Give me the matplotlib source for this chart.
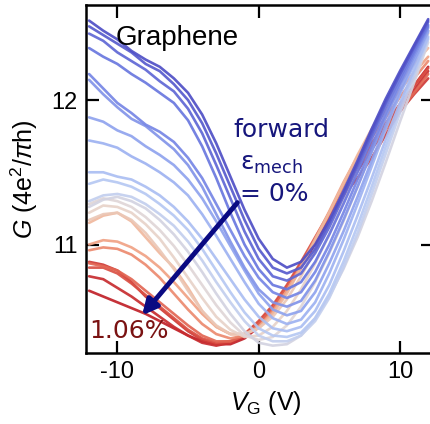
"""
Graphene transfer curves G(VG) for increasing mechanical strain (forward sweep).
"""
import matplotlib.pyplot as plt
from matplotlib.colors import LinearSegmentedColormap

plt.rcParams['font.family'] = ['Liberation Sans', 'DejaVu Sans']
plt.rcParams['mathtext.fontset'] = 'custom'
plt.rcParams['mathtext.rm'] = 'Liberation Sans'
plt.rcParams['mathtext.it'] = 'Liberation Sans:italic'
plt.rcParams['axes.unicode_minus'] = False

# Gate voltage grid (V)
vg = [-12, -11, -10, -9, -8, -7, -6, -5, -4, -3, -2, -1, 0,
      1, 2, 3, 4, 5, 6, 7, 8, 9, 10, 11, 12]

# Mechanical strain of each sweep (%)
strain = [0.00, 0.04, 0.08, 0.13, 0.17, 0.21, 0.25, 0.30, 0.34, 0.38, 0.42, 0.47,
          0.51, 0.55, 0.59, 0.64, 0.70, 0.76, 0.85, 0.91, 0.98, 1.02, 1.06]

# Conductance G (4e^2/pi h), one row per sweep
G = [
    [12.55, 12.48, 12.42, 12.34, 12.28, 12.23, 12.15, 12.05, 11.90, 11.70, 11.47, 11.24, 11.04,
     10.90, 10.84, 10.88, 11.00, 11.17, 11.37, 11.58, 11.80, 12.01, 12.20, 12.38, 12.56],
    [12.51, 12.45, 12.39, 12.33, 12.25, 12.20, 12.11, 12.00, 11.84, 11.63, 11.40, 11.17, 10.97,
     10.84, 10.80, 10.84, 10.97, 11.15, 11.35, 11.56, 11.78, 11.99, 12.18, 12.37, 12.55],
    [12.46, 12.41, 12.33, 12.27, 12.21, 12.13, 12.06, 11.94, 11.77, 11.55, 11.32, 11.09, 10.90,
     10.78, 10.75, 10.80, 10.94, 11.12, 11.33, 11.54, 11.76, 11.98, 12.18, 12.36, 12.54],
    [12.36, 12.30, 12.25, 12.18, 12.12, 12.05, 11.98, 11.86, 11.68, 11.46, 11.22, 11.00, 10.83,
     10.72, 10.69, 10.74, 10.88, 11.07, 11.28, 11.50, 11.73, 11.95, 12.15, 12.34, 12.52],
    [12.18, 12.08, 11.98, 11.91, 11.83, 11.78, 11.71, 11.60, 11.46, 11.28, 11.10, 10.92, 10.77,
     10.67, 10.63, 10.67, 10.81, 11.00, 11.22, 11.45, 11.68, 11.91, 12.12, 12.32, 12.51],
    [12.14, 12.04, 11.95, 11.87, 11.82, 11.74, 11.66, 11.55, 11.40, 11.21, 11.02, 10.84, 10.69,
     10.60, 10.57, 10.61, 10.75, 10.95, 11.17, 11.40, 11.64, 11.88, 12.10, 12.30, 12.50],
    [11.88, 11.85, 11.79, 11.75, 11.68, 11.62, 11.55, 11.45, 11.32, 11.16, 10.99, 10.82, 10.66,
     10.55, 10.51, 10.54, 10.67, 10.87, 11.09, 11.33, 11.58, 11.83, 12.06, 12.27, 12.48],
    [11.72, 11.70, 11.67, 11.61, 11.56, 11.50, 11.43, 11.34, 11.21, 11.06, 10.90, 10.74, 10.59,
     10.49, 10.45, 10.48, 10.60, 10.80, 11.03, 11.28, 11.54, 11.80, 12.04, 12.25, 12.47],
    [11.50, 11.50, 11.47, 11.45, 11.40, 11.34, 11.26, 11.16, 11.04, 10.90, 10.76, 10.62, 10.50,
     10.42, 10.40, 10.43, 10.54, 10.72, 10.95, 11.20, 11.46, 11.73, 11.98, 12.21, 12.44],
    [11.42, 11.45, 11.43, 11.40, 11.35, 11.28, 11.20, 11.10, 10.97, 10.82, 10.67, 10.53, 10.42,
     10.37, 10.36, 10.39, 10.49, 10.66, 10.88, 11.13, 11.40, 11.68, 11.95, 12.19, 12.43],
    [11.30, 11.34, 11.35, 11.33, 11.28, 11.21, 11.13, 11.02, 10.89, 10.74, 10.60, 10.47, 10.37,
     10.33, 10.33, 10.37, 10.47, 10.63, 10.84, 11.08, 11.35, 11.63, 11.91, 12.16, 12.42],
    [11.26, 11.31, 11.33, 11.30, 11.25, 11.17, 11.07, 10.95, 10.81, 10.66, 10.52, 10.40, 10.32,
     10.30, 10.31, 10.37, 10.49, 10.64, 10.83, 11.05, 11.30, 11.57, 11.85, 12.12, 12.40],
    [11.28, 11.32, 11.30, 11.26, 11.19, 11.10, 10.99, 10.86, 10.72, 10.58, 10.46, 10.37, 10.34,
     10.36, 10.44, 10.57, 10.74, 10.94, 11.16, 11.40, 11.65, 11.90, 12.13, 12.33, 12.48],
    [11.22, 11.27, 11.26, 11.22, 11.14, 11.04, 10.91, 10.77, 10.63, 10.50, 10.41, 10.36, 10.37,
     10.43, 10.54, 10.69, 10.87, 11.07, 11.29, 11.52, 11.75, 11.97, 12.17, 12.34, 12.48],
    [11.17, 11.21, 11.22, 11.17, 11.08, 10.96, 10.83, 10.68, 10.54, 10.44, 10.38, 10.38, 10.42,
     10.50, 10.62, 10.78, 10.96, 11.16, 11.37, 11.58, 11.79, 11.99, 12.17, 12.33, 12.46],
    [11.15, 11.20, 11.22, 11.16, 11.05, 10.94, 10.84, 10.70, 10.54, 10.43, 10.38, 10.38, 10.42,
     10.52, 10.66, 10.84, 11.03, 11.22, 11.42, 11.62, 11.80, 11.97, 12.12, 12.25, 12.36],
    [11.00, 11.03, 11.02, 10.98, 10.92, 10.84, 10.74, 10.63, 10.52, 10.43, 10.38, 10.38, 10.43,
     10.53, 10.68, 10.85, 11.04, 11.23, 11.43, 11.61, 11.78, 11.93, 12.07, 12.19, 12.30],
    [10.96, 10.98, 10.97, 10.93, 10.86, 10.77, 10.66, 10.55, 10.45, 10.38, 10.35, 10.37, 10.43,
     10.54, 10.68, 10.85, 11.03, 11.22, 11.41, 11.58, 11.74, 11.88, 12.02, 12.15, 12.27],
    [10.87, 10.85, 10.82, 10.76, 10.68, 10.60, 10.52, 10.44, 10.37, 10.33, 10.33, 10.37, 10.45,
     10.56, 10.70, 10.86, 11.03, 11.20, 11.37, 11.53, 11.67, 11.80, 11.93, 12.05, 12.18],
    [10.84, 10.84, 10.80, 10.73, 10.65, 10.57, 10.49, 10.41, 10.35, 10.32, 10.33, 10.38, 10.47,
     10.58, 10.72, 10.88, 11.05, 11.22, 11.39, 11.55, 11.70, 11.84, 11.97, 12.10, 12.22],
    [10.88, 10.86, 10.82, 10.74, 10.64, 10.56, 10.48, 10.40, 10.34, 10.31, 10.32, 10.37, 10.46,
     10.57, 10.71, 10.87, 11.03, 11.19, 11.34, 11.46, 11.60, 11.76, 11.92, 12.04, 12.15],
    [10.78, 10.76, 10.70, 10.64, 10.57, 10.50, 10.43, 10.37, 10.32, 10.30, 10.32, 10.37, 10.46,
     10.57, 10.70, 10.85, 11.01, 11.18, 11.35, 11.51, 11.66, 11.80, 11.94, 12.07, 12.20],
    [10.68, 10.64, 10.60, 10.56, 10.52, 10.47, 10.42, 10.37, 10.33, 10.31, 10.31, 10.35, 10.43,
     10.54, 10.68, 10.84, 11.01, 11.18, 11.35, 11.52, 11.68, 11.83, 11.97, 12.10, 12.23],
]

cmap = LinearSegmentedColormap.from_list(
    'strain', ['#4f4fc6', '#6a78e0', '#94a9f0', '#bccdf4', '#e6d8d2',
               '#f2b294', '#ea7c62', '#d84a40', '#c02028'])

fig = plt.figure(figsize=(4.31, 4.24), dpi=100)
ax = fig.add_axes([86 / 431, 1 - 353 / 424, 347 / 431, 348 / 424])

# red (high strain) first so blue sweeps sit on top
for s, g in reversed(list(zip(strain, G))):
    ax.plot(vg, g, '-', color=cmap(s / 1.06), linewidth=1.9, alpha=0.92,
            solid_capstyle='round')

ax.set_xlim(-12.22, 12.34)
ax.set_ylim(10.249, 12.658)
ax.set_xticks([-10, 0, 10])
ax.set_yticks([11, 12])
ax.tick_params(direction='in', length=9, width=1.6, labelsize=17,
               top=True, right=True, pad=6)
for sp in ax.spines.values():
    sp.set_linewidth(1.8)

ax.set_xlabel(r'$V_{\mathrm{G}}$ (V)', fontsize=18)
ax.xaxis.set_label_coords((266 - 86) / 347, -(389 - 353) / 348)
ax.set_ylabel(r'$G$ (4e$^2$/$\pi$h)', fontsize=18)
ax.yaxis.set_label_coords(-(86 - 40) / 347, 0.5)

ax.text(-10.1, 12.43, 'Graphene', fontsize=20, ha='left', va='center')

navy = '#16167c'
ax.text(1.6, 11.79, 'forward', fontsize=18, color=navy, ha='center', va='center',
        family='DejaVu Sans')
ax.text(0.9, 11.56, r'ε$_{\mathrm{mech}}$', fontsize=18, color=navy,
        ha='center', va='center', family='DejaVu Sans', math_fontfamily='dejavusans')
ax.text(1.1, 11.35, '= 0%', fontsize=18, color=navy, ha='center', va='center',
        family='DejaVu Sans')
ax.annotate('', xy=(-8.25, 10.51), xytext=(-1.5, 11.29),
            arrowprops=dict(arrowstyle='-|>,head_length=0.9,head_width=0.45',
                            color='#0a0a82', lw=3.5, shrinkA=0, shrinkB=0))

ax.text(-9.2, 10.40, '1.06%', fontsize=18, color='#7a1212', ha='center',
        va='center', family='DejaVu Sans')

plt.savefig('out.png', dpi=100)
